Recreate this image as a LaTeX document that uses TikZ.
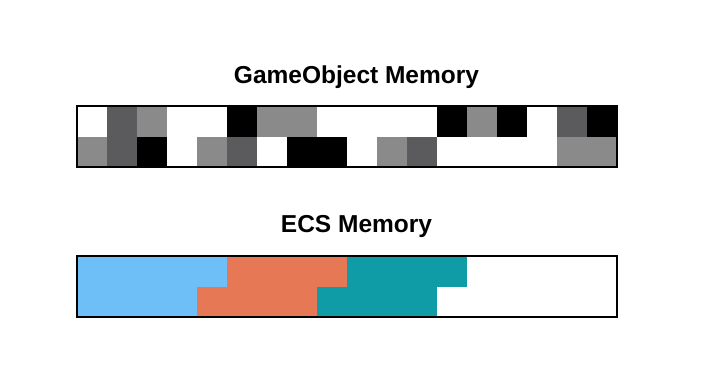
\documentclass[tikz,border=0pt]{standalone}
\usepackage{fontspec}
\setmainfont{Liberation Sans}
\usetikzlibrary{positioning}
\definecolor{darkcell}{HTML}{5B5B5D}
\definecolor{greycell}{HTML}{8A8A8A}
\definecolor{ecsblue}{HTML}{6EBEF8}
\definecolor{ecsorange}{HTML}{E77855}
\definecolor{ecsteal}{HTML}{109CA6}
\tikzset{
  title/.style={anchor=base, font=\fontsize{24.5}{28}\selectfont\bfseries, inner sep=0pt},
  barframe/.style={draw=black, line width=1.1pt}
}

\begin{document}
\begin{tikzpicture}[x=1pt,y=-1pt]
    \useasboundingbox[fill=white] (0,0) rectangle (713,373);

    % GameObject memory
    \node[title] (gotitle) at (356.5,83) {GameObject Memory};
    \foreach \c [count=\i from 0] in {white,darkcell,greycell,white,white,black,greycell,greycell,white,
      white,white,white,black,greycell,black,white,darkcell,black}
    \fill[\c] (77+30*\i,106) rectangle ++(30,30.5);
    \foreach \c [count=\i from 0] in {greycell,darkcell,black,white,greycell,darkcell,white,black,black,
      white,greycell,darkcell,white,white,white,white,greycell,greycell}
    \fill[\c] (77+30*\i,136.5) rectangle ++(30,30.5);
    \draw[barframe] (77,106) rectangle (617,167);

    % ECS memory
    \node[title] (ecstitle) at (356.5,232) {ECS Memory};
    \fill[ecsblue] (77,256) rectangle (227,286.5);
    \fill[ecsorange] (227,256) rectangle (347,286.5);
    \fill[ecsteal] (347,256) rectangle (467,286.5);
    \fill[ecsblue] (77,286.5) rectangle (197,317);
    \fill[ecsorange] (197,286.5) rectangle (317,317);
    \fill[ecsteal] (317,286.5) rectangle (437,317);
    \draw[barframe] (77,256) rectangle (617,317);
\end{tikzpicture}
\end{document}
